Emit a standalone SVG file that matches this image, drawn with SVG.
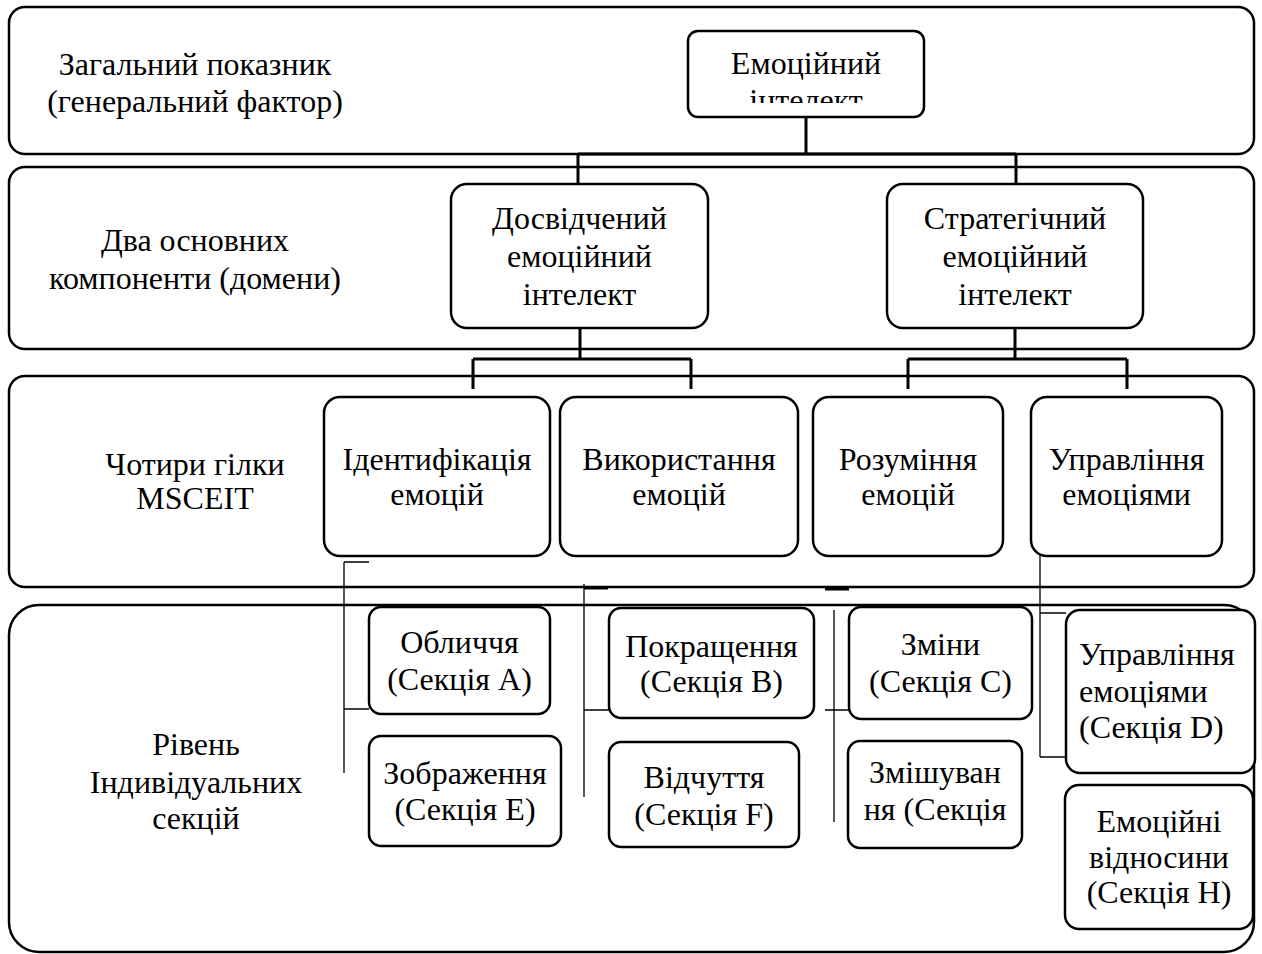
<svg xmlns="http://www.w3.org/2000/svg" width="1262" height="954" viewBox="0 0 1262 954">
<style>
.band{fill:none;stroke:#000;stroke-width:2.5}
.node{fill:#fff;stroke:#000;stroke-width:2.5}
.t{font-family:"Liberation Serif","Times New Roman",serif;font-size:32px;fill:#000;text-anchor:middle}
.tl{font-family:"Liberation Serif","Times New Roman",serif;font-size:32px;fill:#000}
.c{fill:none;stroke:#000;stroke-width:3}
.thin{fill:none;stroke:#000;stroke-width:1.3}
</style>
<defs>
<clipPath id="clipEI"><rect x="688" y="31" width="236" height="72"/></clipPath>
<clipPath id="clipG"><rect x="848" y="741" width="174" height="88"/></clipPath>
</defs>
<rect width="1262" height="954" fill="#fff"/>
<g id="band1"><rect class="band" x="9" y="7" width="1245" height="147" rx="16"/>
<text class="t" x="195" y="75">Загальний показник</text>
<text class="t" x="195" y="112">(генеральний фактор)</text></g>
<g id="band2"><rect class="band" x="9" y="167" width="1245" height="182" rx="16"/>
<text class="t" x="195" y="251">Два основних</text>
<text class="t" x="195" y="289">компоненти (домени)</text></g>
<g id="band3"><rect class="band" x="9" y="376" width="1245" height="211" rx="16"/>
<text class="t" x="195" y="475">Чотири гілки</text>
<text class="t" x="195" y="509">MSCEIT</text></g>
<g id="band4"><rect class="band" x="9" y="605" width="1245" height="347" rx="30"/>
<text class="t" x="196" y="755">Рівень</text>
<text class="t" x="196" y="793">Індивідуальних</text>
<text class="t" x="196" y="829">секцій</text></g>
<g id="connectors">
<path class="c" d="M806 117V154M578 154H1016M578 154V184M1016 154V184"/>
<path class="c" d="M580 328V359M473 359H691M473 359V389M691 359V389"/>
<path class="c" d="M1015 328V359M908 359H1127M908 359V389M1127 359V389"/>
<path class="thin" d="M344 562V773M344 562H369M344 709H369"/>
<path class="thin" d="M584 584V797M584 710H609"/>
<path class="c" d="M584 588H608"/>
<path class="thin" d="M834 610V822M825 710H849"/>
<path class="c" d="M825 589H849"/>
<path class="thin" d="M1040 496V757M1040 613H1066M1040 757H1066"/>
</g>
<g id="n-ei"><rect class="node" x="688" y="31" width="236" height="86" rx="10"/>
<g clip-path="url(#clipEI)"><text class="t" x="806" y="74">Емоційний</text><text class="t" x="806" y="111">інтелект</text></g></g>
<g id="n-exp"><rect class="node" x="451" y="184" width="257" height="144" rx="16"/>
<text class="t" x="579.5" y="229">Досвідчений</text><text class="t" x="579.5" y="267">емоційний</text><text class="t" x="579.5" y="305">інтелект</text></g>
<g id="n-str"><rect class="node" x="887" y="184" width="256" height="144" rx="16"/>
<text class="t" x="1015" y="229">Стратегічний</text><text class="t" x="1015" y="267">емоційний</text><text class="t" x="1015" y="305">інтелект</text></g>
<g id="n-id"><rect class="node" x="324" y="397" width="226" height="159" rx="16"/>
<text class="t" x="437" y="470">Ідентифікація</text><text class="t" x="437" y="505">емоцій</text></g>
<g id="n-use"><rect class="node" x="560" y="397" width="238" height="159" rx="16"/>
<text class="t" x="679" y="470">Використання</text><text class="t" x="679" y="505">емоцій</text></g>
<g id="n-und"><rect class="node" x="813" y="397" width="190" height="159" rx="16"/>
<text class="t" x="908" y="470">Розуміння</text><text class="t" x="908" y="505">емоцій</text></g>
<g id="n-man"><rect class="node" x="1031" y="397" width="191" height="159" rx="16"/>
<text class="t" x="1126.5" y="470">Управління</text><text class="t" x="1126.5" y="505">емоціями</text></g>
<g id="n-a"><rect class="node" x="369" y="607" width="181" height="107" rx="12"/>
<text class="t" x="459.5" y="653">Обличчя</text><text class="t" x="459.5" y="690">(Секція A)</text></g>
<g id="n-e"><rect class="node" x="369" y="736" width="192" height="110" rx="12"/>
<text class="t" x="465" y="784">Зображення</text><text class="t" x="465" y="820">(Секція E)</text></g>
<g id="n-b"><rect class="node" x="609" y="608" width="205" height="110" rx="12"/>
<text class="t" x="711.5" y="657">Покращення</text><text class="t" x="711.5" y="692">(Секція B)</text></g>
<g id="n-f"><rect class="node" x="609" y="742" width="190" height="105" rx="12"/>
<text class="t" x="704" y="788">Відчуття</text><text class="t" x="704" y="825">(Секція F)</text></g>
<g id="n-c"><rect class="node" x="849" y="607" width="183" height="112" rx="12"/>
<text class="t" x="940.5" y="655">Зміни</text><text class="t" x="940.5" y="692">(Секція C)</text></g>
<g id="n-g"><rect class="node" x="848" y="741" width="174" height="107" rx="12"/>
<g clip-path="url(#clipG)"><text class="t" x="935" y="783">Змішуван</text><text class="t" x="935" y="820">ня (Секція</text></g></g>
<g id="n-d"><rect class="node" x="1066" y="610" width="189" height="163" rx="14"/>
<text class="tl" x="1079" y="665">Управління</text><text class="tl" x="1079" y="702">емоціями</text><text class="tl" x="1079" y="738">(Секція D)</text></g>
<g id="n-h"><rect class="node" x="1065" y="785" width="188" height="144" rx="14"/>
<text class="t" x="1159" y="832">Емоційні</text><text class="t" x="1159" y="868">відносини</text><text class="t" x="1159" y="903">(Секція H)</text></g>
</svg>
